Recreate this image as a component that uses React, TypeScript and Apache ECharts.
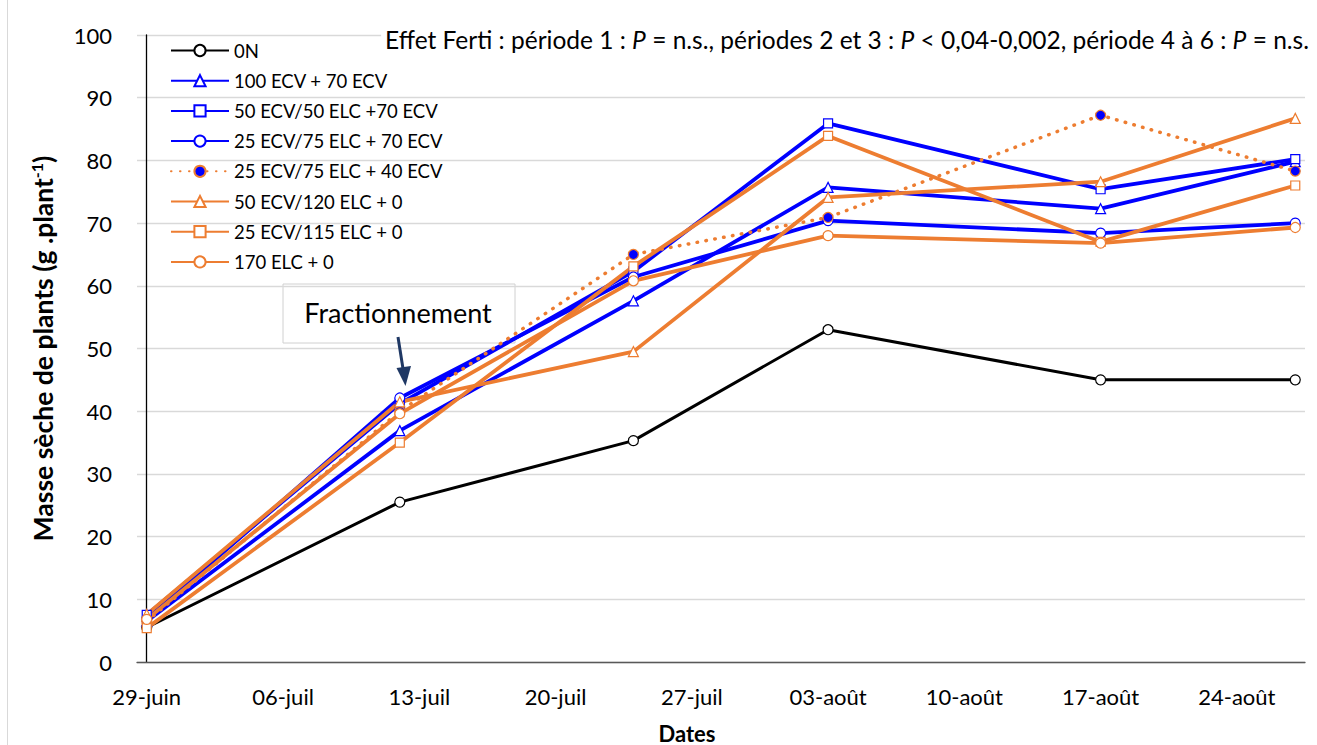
import React, { useEffect, useRef } from "react";
import * as echarts from "echarts";

// days counted from 29-juin
const sampleDays = [0, 13, 25, 35, 49, 59];
const tickDays = [0, 7, 14, 21, 28, 35, 42, 49, 56];
const tickLabels = ["29-juin", "06-juil", "13-juil", "20-juil", "27-juil", "03-août", "10-août", "17-août", "24-août"];

const s0N = [5.5, 25.5, 35.3, 53.0, 45.0, 45.0];
const s100_70 = [6.5, 36.9, 57.6, 75.7, 72.3, 79.8];
const s50_50_70 = [7.5, 41.2, 62.3, 85.9, 75.4, 80.2];
const s25_75_70 = [6.8, 42.1, 61.4, 70.4, 68.4, 70.0];
const s25_75_40 = [6.5, 40.0, 65.0, 70.9, 87.2, 78.3];
const s50_120_0 = [7.6, 41.5, 49.5, 74.1, 76.6, 86.7];
const s25_115_0 = [5.4, 35.0, 63.1, 83.9, 67.0, 76.0];
const s170_0 = [6.8, 39.6, 60.8, 68.0, 66.8, 69.3];

const BLUE = "#0000FF";
const ORANGE = "#ED7D31";
const FONT = "Lato, 'Open Sans', sans-serif";

function pts(vals: number[]) {
  return vals.map((v, i) => [sampleDays[i], v]);
}

export default function App() {
  const ref = useRef<HTMLDivElement>(null);
  useEffect(() => {
    document.body.style.margin = "0";
    const chart = echarts.init(ref.current!, null, { renderer: "svg" });
    const mk = (
      name: string,
      vals: number[],
      color: string,
      symbol: string,
      width: number,
      extra: any = {}
    ) => ({
      name,
      type: "line",
      data: pts(vals),
      symbol,
      symbolSize: symbol === "rect" ? 9 : 10,
      showSymbol: true,
      lineStyle: { color, width },
      itemStyle: { color: "#fff", borderColor: color, borderWidth: 1.2 },
      z: 3,
      ...extra,
    });
    const series = [
      mk("0N", s0N, "#000", "circle", 3),
      mk("100 ECV + 70 ECV", s100_70, BLUE, "triangle", 3.8),
      mk("50 ECV/50 ELC +70 ECV", s50_50_70, BLUE, "rect", 3.8),
      mk("25 ECV/75 ELC + 70 ECV", s25_75_70, BLUE, "circle", 3.8),
      mk("25 ECV/75 ELC + 40 ECV", s25_75_40, ORANGE, "circle", 3.5, {
        lineStyle: { color: ORANGE, width: 3.5, type: [0.5, 8.5], cap: "round" },
        itemStyle: { color: BLUE, borderColor: ORANGE, borderWidth: 1.2 },
      }),
      mk("50 ECV/120 ELC + 0", s50_120_0, ORANGE, "triangle", 3.8),
      mk("25 ECV/115 ELC + 0", s25_115_0, ORANGE, "rect", 3.8),
      mk("170 ELC + 0", s170_0, ORANGE, "circle", 3.8),
    ];
    chart.setOption({
      animation: false,
      textStyle: { fontFamily: FONT },
      grid: { left: 137, right: 12, top: 35, bottom: 83, containLabel: false, outerBoundsMode: "none" },
      title: {
        text:
          "{n|Effet Ferti : période 1 : }{i|P}{n| = n.s., périodes 2 et 3 : }{i|P}{n| < 0,04-0,002, période 4 à 6 : }{i|P}{n| = n.s.}",
        right: 4,
        top: 26,
        padding: [1, 4],
        backgroundColor: "#fff",
        textStyle: {
          fontWeight: "normal",
          rich: {
            n: { fontSize: 24.5, fontFamily: FONT, color: "#000", fontWeight: "normal" },
            i: { fontSize: 24.5, fontFamily: FONT, color: "#000", fontStyle: "italic", fontWeight: "normal" },
          },
        },
      },
      legend: {
        orient: "vertical",
        left: 170,
        top: 41,
        padding: 0,
        itemWidth: 58,
        itemHeight: 14,
        itemGap: 11.2,
        textStyle: { fontSize: 18.5, color: "#000", fontFamily: FONT },
        data: series.map((s) => s.name),
      },
      xAxis: {
        type: "value",
        min: -0.5,
        max: 59.5,
        axisLine: { show: true, lineStyle: { color: "#595959", width: 1.3 } },
        axisTick: { show: false },
        splitLine: { show: false },
        axisLabel: {
          customValues: tickDays,
          fontSize: 22,
          color: "#000",
          margin: 23,
          fontFamily: FONT,
          formatter: (v: number) => {
            const k = tickDays.indexOf(Math.round(v));
            return k >= 0 ? tickLabels[k] : "";
          },
        },
      },
      yAxis: {
        type: "value",
        min: 0,
        max: 100,
        interval: 10,
        name: "{b|Masse sèche de plants (g .plant}{s|-1}{b|)}",
        nameLocation: "middle",
        nameGap: 79,
        nameRotate: 90,
        nameTextStyle: {
          rich: {
            b: { fontSize: 26.5, fontWeight: "bold", color: "#000", fontFamily: FONT, lineHeight: 30 },
            s: { fontSize: 16, fontWeight: "bold", color: "#000", fontFamily: FONT, verticalAlign: "top", lineHeight: 30 },
          },
        },
        axisLine: { show: true, lineStyle: { color: "#000", width: 1.3 } },
        axisTick: { show: false },
        splitLine: { show: true, lineStyle: { color: "#d9d9d9", width: 1.3 } },
        axisLabel: { fontSize: 22, color: "#000", margin: 25, fontFamily: FONT },
      },
      graphic: [
        {
          type: "line",
          shape: { x1: 7.5, y1: 0, x2: 7.5, y2: 745 },
          style: { stroke: "#d9d9d9", lineWidth: 1 },
        },
        {
          type: "text",
          x: 687,
          y: 733,
          style: {
            text: "Dates",
            fontSize: 22,
            fontWeight: "bold",
            fontFamily: FONT,
            fill: "#000",
            align: "center",
            verticalAlign: "middle",
          },
        },
        {
          type: "group",
          z: 1,
          children: [
            {
              type: "rect",
              shape: { x: 283, y: 284, width: 232, height: 59 },
              style: { fill: "#fff", stroke: "#d0d0d0", lineWidth: 1 },
            },
            {
              type: "text",
              x: 398,
              y: 312,
              style: {
                text: "Fractionnement",
                fontSize: 27,
                fontFamily: FONT,
                fill: "#000",
                align: "center",
                verticalAlign: "middle",
              },
            },
          ],
        },
        {
          type: "line",
          z: 5,
          shape: { x1: 398, y1: 337, x2: 403.5, y2: 372 },
          style: { stroke: "#1F3864", lineWidth: 3 },
        },
        {
          type: "polygon",
          z: 5,
          shape: { points: [[396.5, 368], [411, 366], [405.5, 386]] },
          style: { fill: "#1F3864" },
        },
      ],
      series,
    });
    return () => chart.dispose();
  }, []);
  return <div ref={ref} style={{ width: 1317, height: 745 }} />;
}
